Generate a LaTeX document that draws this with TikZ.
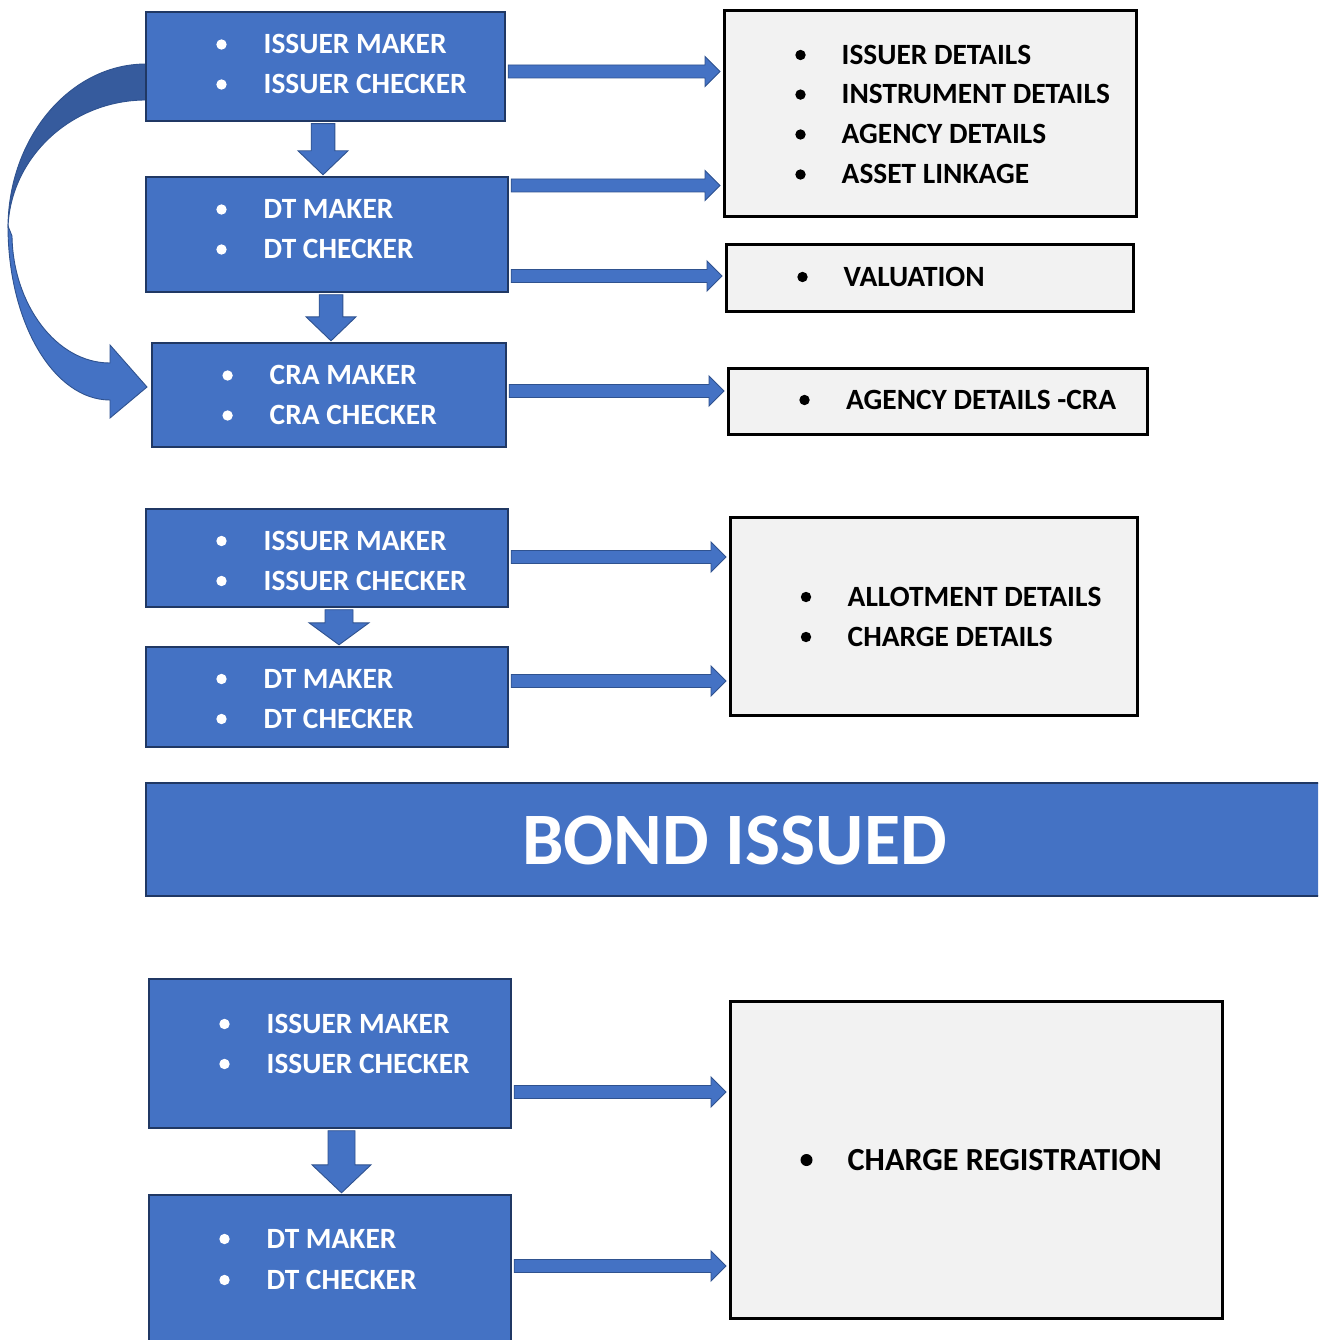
\documentclass[tikz,border=0pt]{standalone}
\usepackage{fontspec}
\setmainfont{Carlito}
\usetikzlibrary{calc}
\definecolor{bfill}{HTML}{4472C4}
\definecolor{bline}{HTML}{2F528F}
\definecolor{bborder}{HTML}{203864}
\definecolor{bdark}{HTML}{365B9D}
\definecolor{gfill}{HTML}{F2F2F2}
\tikzset{
  bluebox/.style={draw=bborder, fill=bfill, line width=2.4pt, rectangle, inner sep=0pt},
  graybox/.style={draw=black, fill=gfill, line width=3pt, rectangle, inner sep=0pt},
  blockarrow/.style={fill=bfill, draw=bline, line width=0.9pt, line join=miter},
  wtext/.style={text=white, font=\bfseries\fontsize{29.4}{34}\selectfont, inner sep=0pt, anchor=base west},
  ktext/.style={text=black, font=\bfseries\fontsize{29.4}{34}\selectfont, inner sep=0pt, anchor=base west},
  ktextbig/.style={text=black, font=\bfseries\fontsize{32.2}{38}\selectfont, inner sep=0pt, anchor=base west},
}
\newcommand\harrow[3]{%
  \coordinate (hs) at ($(#1.east |- 0,#3)+(2,0)$);
  \coordinate (he) at ($(#2.west |- 0,#3)+(-2.5,0)$);
  \draw[blockarrow] let \p1=(hs), \p2=(he) in
    (\x1,\y1-6.5pt) -- (\x2-15pt,\y1-6.5pt) -- (\x2-15pt,\y1-15pt) -- (\x2,\y1)
    -- (\x2-15pt,\y1+15pt) -- (\x2-15pt,\y1+6.5pt) -- (\x1,\y1+6.5pt) -- cycle;
}
% #1 from, #2 to, #3 x, #4 shaft half, #5 head half, #6 head length
\newcommand\varrow[6]{%
  \coordinate (vs) at ($(#1.south -| #3,0)+(0,1.5)$);
  \coordinate (ve) at ($(#2.north -| #3,0)+(0,-1)$);
  \draw[blockarrow] let \p1=(vs), \p2=(ve) in
    (\x1-#4pt,\y1) -- (\x1-#4pt,\y2+#6pt) -- (\x1-#5pt,\y2+#6pt) -- (\x1,\y2)
    -- (\x1+#5pt,\y2+#6pt) -- (\x1+#4pt,\y2+#6pt) -- (\x1+#4pt,\y1) -- cycle;
}
\newcommand\wdot[2]{\fill[white] (#1,#2) circle (5.2);}
\newcommand\kdot[2]{\fill[black] (#1,#2) circle (5.2);}
\begin{document}
\begin{tikzpicture}[x=1pt,y=-1pt]
\useasboundingbox (0,0) rectangle (1318,1340);
\clip (0,0) rectangle (1318,1340);
\fill[white] (0,0) rectangle (1318,1340);

% curved arrow (behind boxes)
\fill[bdark, draw=bline, line width=0.9pt]
  (150,64) -- (146,64) .. controls (70,64) and (8,138) .. (8,228)
  .. controls (10,158) and (71,100) .. (146,100) -- (150,100) -- cycle;
\fill[bfill, draw=bline, line width=0.9pt]
  (8,226) .. controls (8,323) and (54,400) .. (110,400) -- (110,418) -- (147,387)
  -- (110,345) -- (110,363) .. controls (56,363) and (13,304) .. (12,236) -- cycle;

% left boxes
\node[bluebox, minimum width=359pt, minimum height=109pt] (a1) at (325.5,66.5) {};
\node[bluebox, minimum width=362pt, minimum height=115pt] (a2) at (327,234.5) {};
\node[bluebox, minimum width=354pt, minimum height=104pt] (a3) at (329,395) {};
\node[bluebox, minimum width=362pt, minimum height=98pt] (b1) at (327,558) {};
\node[bluebox, minimum width=362pt, minimum height=100pt] (b2) at (327,697) {};
\node[bluebox, minimum width=1194pt, minimum height=113pt] (bond) at (743,839.5) {};
\node[bluebox, minimum width=362pt, minimum height=149pt] (c1) at (330,1053.5) {};
\node[bluebox, minimum width=362pt, minimum height=165pt] (c2) at (330,1277.5) {};

% right boxes
\node[graybox, minimum width=412pt, minimum height=206pt] (g1) at (930,114) {};
\node[graybox, minimum width=407pt, minimum height=66pt] (g2) at (929.5,278) {};
\node[graybox, minimum width=419pt, minimum height=66pt] (g3) at (937.5,401) {};
\node[graybox, minimum width=407pt, minimum height=198pt] (g4) at (933.5,616) {};
\node[graybox, minimum width=492pt, minimum height=317pt] (g5) at (976,1159.5) {};

% horizontal arrows
\harrow{a1}{g1}{71.5}
\harrow{a2}{g1}{185.5}
\harrow{a2}{g2}{276}
\harrow{a3}{g3}{391}
\harrow{b1}{g4}{557}
\harrow{b2}{g4}{681}
\harrow{c1}{g5}{1092}
\harrow{c2}{g5}{1266}

% vertical arrows
\varrow{a1}{a2}{323}{11.8}{25}{24}
\varrow{a2}{a3}{331}{11.8}{25}{24}
\varrow{b1}{b2}{339}{14}{30}{22}
\varrow{c1}{c2}{341.5}{13.5}{29.5}{28}

% texts in blue boxes
\wdot{221.5}{44.5}\node[wtext] (a1t1) at (263.5,53.9) {ISSUER MAKER};
\wdot{221.5}{84.5}\node[wtext] (a1t2) at (263.5,93.9) {ISSUER CHECKER};
\wdot{221.5}{209.5}\node[wtext] (a2t1) at (263.5,218.9) {DT MAKER};
\wdot{221.5}{249.5}\node[wtext] (a2t2) at (263.5,258.9) {DT CHECKER};
\wdot{227.6}{375.5}\node[wtext] (a3t1) at (269.5,384.9) {CRA MAKER};
\wdot{227.6}{415.5}\node[wtext] (a3t2) at (269.5,424.9) {CRA CHECKER};
\wdot{221.5}{541}\node[wtext] (b1t1) at (263.5,550.4) {ISSUER MAKER};
\wdot{221.5}{581}\node[wtext] (b1t2) at (263.5,590.4) {ISSUER CHECKER};
\wdot{221.5}{679}\node[wtext] (b2t1) at (263.5,688.4) {DT MAKER};
\wdot{221.5}{719}\node[wtext] (b2t2) at (263.5,728.4) {DT CHECKER};
\wdot{224.5}{1024}\node[wtext] (c1t1) at (266.5,1033.4) {ISSUER MAKER};
\wdot{224.5}{1064}\node[wtext] (c1t2) at (266.5,1073.4) {ISSUER CHECKER};
\wdot{224.5}{1239}\node[wtext] (c2t1) at (266.5,1248.4) {DT MAKER};
\wdot{224.5}{1280}\node[wtext] (c2t2) at (266.5,1289.4) {DT CHECKER};

\node[text=white, font=\bfseries\fontsize{74}{80}\selectfont, inner sep=0pt, anchor=base] (bondt) at (734.5,864) {BOND ISSUED};

% texts in gray boxes
\kdot{800.5}{55}\node[ktext] (g1t1) at (841.5,64.4) {ISSUER DETAILS};
\kdot{800.5}{94.6}\node[ktext] (g1t2) at (841.5,104) {INSTRUMENT DETAILS};
\kdot{800.5}{134.5}\node[ktext] (g1t3) at (841.5,143.9) {AGENCY DETAILS};
\kdot{800.5}{174.5}\node[ktext] (g1t4) at (841.5,183.9) {ASSET LINKAGE};
\kdot{802.5}{277}\node[ktext] (g2t1) at (843.5,286.4) {VALUATION};
\kdot{804.5}{400}\node[ktext] (g3t1) at (846,409.4) {AGENCY DETAILS -CRA};
\kdot{806}{597}\node[ktext] (g4t1) at (847.5,606.4) {ALLOTMENT DETAILS};
\kdot{806}{637}\node[ktext] (g4t2) at (847.5,646.4) {CHARGE DETAILS};
\fill[black] (806.5,1160) circle (6);\node[ktextbig] (g5t1) at (847.5,1170.2) {CHARGE REGISTRATION};
\end{tikzpicture}
\end{document}
